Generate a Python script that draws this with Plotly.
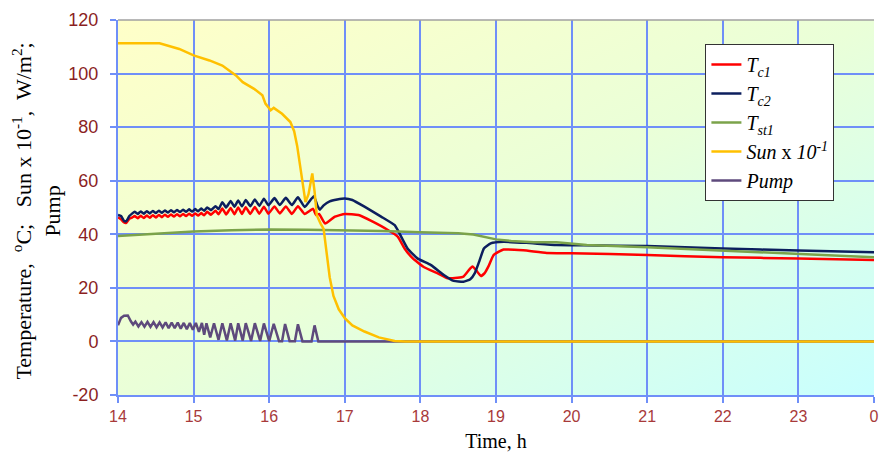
import base64
import plotly.graph_objects as go

# ---------------- data ----------------
t_tc1 = [14.00, 14.04, 14.08, 14.11, 14.15, 14.19,
         14.22, 14.26, 14.30, 14.34, 14.38, 14.42, 14.46, 14.50, 14.54, 14.58,
         14.62, 14.66, 14.70, 14.74, 14.78, 14.82, 14.86, 14.90, 14.94, 14.98,
         15.02, 15.06, 15.10, 15.14, 15.18, 15.23, 15.29, 15.33,
         15.38, 15.43, 15.49, 15.54, 15.59, 15.64, 15.69, 15.75, 15.81, 15.87,
         15.93, 15.99, 16.07, 16.14, 16.22, 16.30, 16.38, 16.47, 16.58,
         16.62, 16.66, 16.74, 16.87, 17.00, 17.18, 17.35, 17.57, 17.70, 17.79,
         17.90, 18.05, 18.23, 18.36, 18.49, 18.57, 18.66, 18.69, 18.74, 18.80,
         18.85, 18.90, 18.97, 19.10, 19.36, 19.67, 20.00, 21.00, 22.00, 23.00, 24.00]
tc1 = [46.3, 45.6, 44.4, 44.3, 45.8, 46.3,
       46.8, 46.0, 46.9, 46.1, 47.0, 46.2, 47.1, 46.3, 47.2, 46.4,
       47.3, 46.5, 47.4, 46.6, 47.5, 46.7, 47.6, 46.8, 47.7, 46.9,
       47.8, 47.0, 47.9, 47.1, 48.4, 47.3, 48.8, 47.5,
       49.6, 47.4, 49.8, 47.5, 50.0, 47.6, 50.1, 47.6, 50.2, 47.7,
       50.3, 47.7, 50.4, 47.8, 50.4, 47.6, 50.5, 47.6, 49.5,
       47.2, 47.6, 44.0, 46.6, 47.6, 47.2, 45.0, 41.6, 39.1, 34.7,
       31.0, 27.7, 25.4, 23.6, 23.8, 24.2, 27.3, 28.0, 26.5, 24.4,
       25.5, 28.0, 32.3, 34.3, 34.0, 33.0, 32.9, 32.3, 31.4, 31.0, 30.4]

t_tc2 = [14.00, 14.04, 14.08, 14.11, 14.15, 14.19,
         14.22, 14.26, 14.30, 14.34, 14.38, 14.42, 14.46, 14.50, 14.54, 14.58,
         14.62, 14.66, 14.70, 14.74, 14.78, 14.82, 14.86, 14.90, 14.94, 14.98,
         15.02, 15.06, 15.10, 15.14, 15.18, 15.23, 15.29, 15.33,
         15.38, 15.43, 15.49, 15.54, 15.59, 15.64, 15.69, 15.75, 15.81, 15.87,
         15.93, 15.99, 16.07, 16.14, 16.22, 16.30, 16.38, 16.47, 16.59,
         16.64, 16.67, 16.72, 16.80, 16.90, 17.00, 17.10, 17.26, 17.48, 17.66,
         17.72, 17.83, 17.96, 18.14, 18.31, 18.44, 18.57, 18.66, 18.72, 18.78,
         18.84, 18.93, 19.10, 19.40, 19.80, 20.16, 21.00, 22.00, 23.00, 24.00]
tc2 = [47.2, 46.8, 45.0, 44.9, 46.8, 47.8,
       48.4, 47.6, 48.5, 47.7, 48.6, 47.8, 48.7, 47.9, 48.8, 48.0,
       48.9, 48.1, 49.0, 48.2, 49.1, 48.3, 49.2, 48.4, 49.3, 48.5,
       49.4, 48.6, 49.6, 48.8, 50.0, 49.0, 50.5, 49.4,
       52.0, 50.0, 52.4, 50.3, 52.6, 50.4, 52.8, 50.5, 53.0, 50.6,
       53.3, 50.8, 53.5, 50.9, 53.6, 50.9, 53.8, 50.2, 54.2,
       50.5, 49.2, 50.8, 52.3, 53.0, 53.4, 52.8, 50.3, 46.6, 43.4,
       40.5, 34.7, 31.0, 28.5, 24.8, 22.6, 22.3, 23.2, 25.5, 30.0,
       34.7, 36.6, 37.2, 36.8, 36.0, 35.9, 35.6, 34.7, 33.9, 33.3]

t_tst1 = [14.0, 14.5, 15.0, 15.5, 16.0, 16.5, 17.0, 17.5, 18.0, 18.5, 18.7,
          18.9, 19.0, 19.2, 19.5, 19.8, 20.2, 21.0, 22.0, 23.0, 24.0]
tst1 = [39.4, 40.2, 41.0, 41.5, 41.8, 41.7, 41.5, 41.2, 40.8, 40.4, 39.9,
        38.7, 38.1, 37.5, 37.0, 37.0, 36.0, 35.2, 34.0, 32.7, 31.4]

t_sun = [14.00, 14.55, 14.81, 15.00, 15.21, 15.38, 15.56, 15.65, 15.80, 15.91,
         15.95, 16.00, 16.02, 16.06, 16.17, 16.28, 16.33, 16.37, 16.41, 16.45,
         16.48, 16.52, 16.57, 16.60, 16.63, 16.68, 16.72, 16.76, 16.80, 16.85,
         16.92, 17.00, 17.10, 17.26, 17.45, 17.66, 17.80, 24.00]
sun = [111.3, 111.3, 109.2, 106.8, 104.9, 103.0, 99.3, 96.8, 94.3, 91.9,
       88.8, 87.0, 86.3, 87.2, 85.0, 81.9, 78.5, 73.0, 65.0, 56.0,
       52.0, 55.0, 62.7, 56.0, 47.0, 44.0, 42.0, 33.0, 24.0, 17.0,
       12.0, 8.7, 6.0, 3.7, 1.5, 0.2, 0.0, 0.0]

t_pump = [14.00, 14.04, 14.08, 14.13, 14.17, 14.20,
          14.23, 14.27, 14.31, 14.35, 14.39, 14.43, 14.47, 14.51, 14.55, 14.59,
          14.63, 14.67, 14.71, 14.75, 14.79, 14.83, 14.87, 14.91, 14.95, 14.99,
          15.03, 15.07, 15.11, 15.14, 15.17, 15.22, 15.27, 15.33, 15.38, 15.44,
          15.49, 15.55, 15.59, 15.65, 15.69, 15.76, 15.81, 15.88, 15.93, 16.00,
          16.06, 16.13, 16.17, 16.21, 16.27, 16.34, 16.38, 16.44, 16.56, 16.60,
          16.65, 24.00]
pump = [6.0, 8.8, 9.6, 9.7, 7.5, 6.3,
        7.4, 5.6, 7.2, 5.5, 7.3, 5.4, 7.2, 5.3, 7.1, 5.2,
        7.1, 5.0, 7.0, 5.0, 7.0, 4.8, 6.9, 4.6, 6.9, 4.4,
        6.9, 3.6, 6.9, 2.5, 6.8, 1.5, 6.8, 0.6, 6.8, 0.4,
        6.8, 0.3, 6.8, 0.3, 6.8, 0.2, 6.8, 0.2, 6.7, 0.1,
        6.6, 0.1, 0.1, 6.5, 0.1, 0.1, 6.4, 0.0, 0.0, 6.0,
        0.0, 0.0]

x_ticks = [14, 15, 16, 17, 18, 19, 20, 21, 22, 23, 24]
x_labels = ["14", "15", "16", "17", "18", "19", "20", "21", "22", "23", "0"]
y_ticks = [-20, 0, 20, 40, 60, 80, 100, 120]
y_labels = ["-20", "0", "20", "40", "60", "80", "100", "120"]

names = ["<i>T<sub>c1</sub></i>", "<i>T<sub>c2</sub></i>", "<i>T<sub>st1</sub></i>",
         "<i>Sun</i> x <i>10<sup>-1</sup></i>", "<i>Pump</i>"]

# ---------------- styles ----------------
C_TC1, C_TC2, C_TST, C_SUN, C_PUMP = "#ff0000", "#0c1f5e", "#7ba34a", "#ffc000", "#5e4a7c"
GRID = "#6f8ff8"
SERIF = "Liberation Serif"
SANS = "Liberation Sans"

fig = go.Figure()
fig.add_trace(go.Scatter(x=t_tc1, y=tc1, mode="lines", name=names[0], legendrank=1,
                         line=dict(color=C_TC1, width=2.5, shape="spline", smoothing=0.4)))
fig.add_trace(go.Scatter(x=t_tc2, y=tc2, mode="lines", name=names[1], legendrank=2,
                         line=dict(color=C_TC2, width=2.5, shape="spline", smoothing=0.4)))
fig.add_trace(go.Scatter(x=t_tst1, y=tst1, mode="lines", name=names[2], legendrank=3,
                         line=dict(color=C_TST, width=2.5)))
fig.add_trace(go.Scatter(x=t_pump, y=pump, mode="lines", name=names[4], legendrank=5,
                         line=dict(color=C_PUMP, width=2.5)))
fig.add_trace(go.Scatter(x=t_sun, y=sun, mode="lines", name=names[3], legendrank=4,
                         line=dict(color=C_SUN, width=2.5)))

# diagonal gradient background
svg = ('<svg xmlns="http://www.w3.org/2000/svg" width="100" height="100" viewBox="0 0 100 100" '
       'preserveAspectRatio="none"><defs><linearGradient id="g" x1="0" y1="0" x2="1" y2="1">'
       '<stop offset="0" stop-color="#ffffc8"/><stop offset="0.5" stop-color="#eaffd8"/>'
       '<stop offset="1" stop-color="#c8ffff"/></linearGradient></defs>'
       '<rect width="100" height="100" fill="url(#g)"/></svg>')
src = "data:image/svg+xml;base64," + base64.b64encode(svg.encode()).decode()

fig.update_layout(
    width=880, height=457, autosize=False,
    margin=dict(l=118, r=1, t=20, b=62),
    paper_bgcolor="white", plot_bgcolor="#eaffd8",
    images=[dict(source=src, xref="paper", yref="paper", x=0, y=1, sizex=1, sizey=1,
                 sizing="stretch", layer="below", xanchor="left", yanchor="top")],
    showlegend=True,
    legend=dict(x=0.777, y=0.936, xanchor="left", yanchor="top",
                bgcolor="white", bordercolor="#333333", borderwidth=1,
                font=dict(family=SERIF, size=20, color="black"),
                itemwidth=30, tracegroupgap=0),
    xaxis=dict(range=[14, 24], tickvals=x_ticks, ticktext=x_labels,
               showgrid=True, gridcolor=GRID, gridwidth=1.5, zeroline=False,
               showline=True, linecolor=GRID, linewidth=2,
               ticks="outside", ticklen=6, tickcolor=GRID, tickwidth=1.5,
               ticklabeloverflow="allow",
               tickfont=dict(family=SANS, size=16, color="#a83a3a"),
               title=dict(text="Time, h", font=dict(family=SERIF, size=20, color="black"),
                          standoff=10)),
    yaxis=dict(range=[-20, 120], tickvals=y_ticks, ticktext=y_labels,
               showgrid=True, gridcolor=GRID, gridwidth=1.5, zeroline=False,
               showline=True, linecolor=GRID, linewidth=2,
               ticks="outside", ticklen=6, tickcolor=GRID, tickwidth=1.5,
               ticklabelstandoff=8,
               tickfont=dict(family=SANS, size=18, color="#8b1f1f")),
    shapes=[dict(type="line", xref="paper", yref="paper", x0=0, x1=1, y0=1, y1=1,
                 line=dict(color="#a0a0a0", width=1.5))],
    annotations=[dict(text="Temperature,  <sup>o</sup>C;   Sun x 10<sup>-1</sup>,  W/m<sup>2</sup>;<br>Pump",
                      xref="paper", yref="paper", x=-0.108, y=0.49, xanchor="center", yanchor="middle",
                      textangle=-90, showarrow=False,
                      font=dict(family=SERIF, size=22, color="black"))],
)

fig.write_html("out.html")
